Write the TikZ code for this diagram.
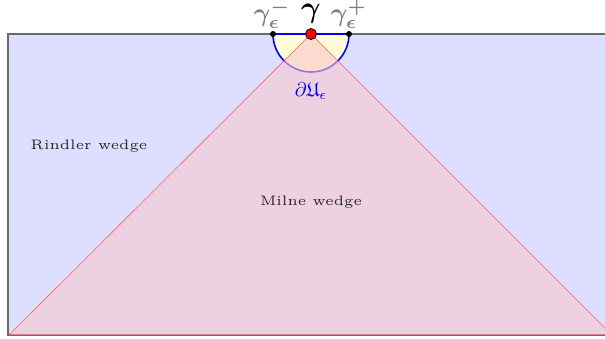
\documentclass[tikz,border=0pt]{standalone}
\usepackage{amsmath,amssymb,bm}
\begin{document}
\begin{tikzpicture}[x=1pt,y=-1pt,
  lbl/.style={font=\tiny,scale=2.75,inner sep=0pt},
  mlbl/.style={font=\normalsize,scale=2.0,inner sep=0pt},
  enddot/.style={circle,fill=black,inner sep=0pt,minimum size=6pt},
  middot/.style={circle,fill=red,draw=black,line width=0.8pt,inner sep=0pt,minimum size=11pt}]
\definecolor{rindler}{RGB}{222,222,255}
\definecolor{milne}{RGB}{250,200,205}
\definecolor{disk}{RGB}{255,250,215}
\definecolor{edge}{RGB}{105,105,105}
\useasboundingbox (0,0) rectangle (605,338);
\clip (0,0) rectangle (605,338);
% Rindler region
\draw[edge,line width=2pt,fill=rindler] (8,34) rectangle (640,335);
% half disk
\fill[disk] (273,34) arc[start angle=180,end angle=0,radius=38] -- cycle;
\draw[blue,line width=1.6pt] (273,34) arc[start angle=180,end angle=0,radius=38] -- cycle;
% Milne wedge
\coordinate (apex) at (311,34);
\coordinate (bl) at (9,335);
\coordinate (br) at (612,335);
\fill[milne,opacity=0.6] (apex) -- (bl) -- (br) -- cycle;
\draw[red!80!white,opacity=0.7,line width=0.6pt] (apex) -- (bl) -- (br) -- cycle;
% dots
\node[enddot] (gm) at (273,34) {};
\node[enddot] (gp) at (349,34) {};
\node[middot] (g) at (311,34) {};
% labels
\node[mlbl,scale=1.5] (lg) at (311,14) {$\bm{\gamma}$};
\node[mlbl,scale=1.3,text=gray] (lgm) at (272,14) {$\bm{\gamma_\epsilon^-}$};
\node[mlbl,scale=1.3,text=gray] (lgp) at (349,14) {$\bm{\gamma_\epsilon^+}$};
\node[mlbl,text=blue] (du) at (311,91) {$\partial\mathfrak{U}_\epsilon$};
\node[lbl,text=black!85] (rw) at (89,146) {Rindler wedge};
\node[lbl,text=black!85] (mw) at (311,202) {Milne wedge};
\end{tikzpicture}
\end{document}
